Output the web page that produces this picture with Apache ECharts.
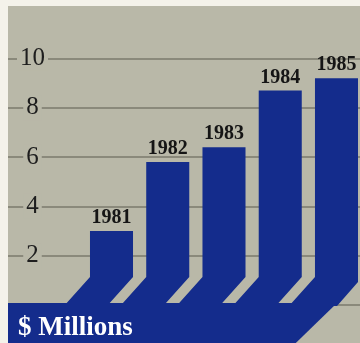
<!DOCTYPE html>
<html>
<head>
<meta charset="utf-8">
<script src="https://cdn.jsdelivr.net/npm/echarts@6/dist/echarts.min.js"></script>
<style>
  html, body { margin: 0; padding: 0; width: 360px; height: 343px; overflow: hidden; background: #f4f2ea; }
  #chart { position: absolute; left: 8px; top: 6px; width: 352px; height: 337px; }
</style>
</head>
<body>
<div id="chart"></div>
<script>
// Annual figures, $ millions
const years = ['1981', '1982', '1983', '1984', '1985'];
const revenue = [3.0, 5.8, 6.4, 8.7, 9.2];
const yMin = 0;
const yMax = 10;
const yStep = 2;
const unitLabel = '$ Millions';

const BLUE = '#142c8c';
const PAPER = '#b9b8a8';
const RULE = '#8a897b';
const FOOT = 26;          // height / sideways shift of each bar's slanted foot (px)
const SERIF = '"Liberation Serif", "DejaVu Serif", serif';

const chart = echarts.init(document.getElementById('chart'), null, { renderer: 'canvas' });

function renderBar(params, api) {
  const i = api.value(0);
  const top = api.coord([i, api.value(1)]);
  const zero = api.coord([i, 0]);
  const w = api.size([1, 0])[0] * 0.765;
  const xL = top[0] - w / 2;
  const xR = top[0] + w / 2;
  const yBase = zero[1] - 2;
  const yBend = yBase - FOOT;
  const isLast = params.dataIndex === years.length - 1;
  const rightBend = isLast ? yBend + 5 : yBend;
  const rightFoot = isLast ? xR - (FOOT - 5) : xR - FOOT;

  const children = [{
    type: 'polygon',
    shape: { points: [
      [xL, top[1]], [xR, top[1]], [xR, rightBend],
      [rightFoot, yBase + 3], [xL - FOOT, yBase + 3], [xL, yBend]
    ] },
    style: { fill: BLUE }
  }, {
    type: 'text',
    x: top[0],
    y: top[1] - 3,
    style: {
      text: years[i],
      fill: '#151515',
      font: 'bold 20px ' + SERIF,
      align: 'center',
      verticalAlign: 'bottom'
    }
  }];

  if (isLast) {
    // base band running under all bars, cut off diagonally on the right
    const cs = params.coordSys;
    const bottom = api.getHeight();
    children.unshift({
      type: 'polygon',
      shape: { points: [
        [cs.x, yBase], [rightFoot, yBase],
        [rightFoot - (bottom - yBase) * 1.03, bottom], [cs.x, bottom]
      ] },
      style: { fill: BLUE }
    });
  }
  return { type: 'group', children: children };
}

chart.setOption({
  backgroundColor: PAPER,
  animation: false,
  grid: { left: 0, right: 0, top: 52.4, bottom: 38, containLabel: false },
  xAxis: {
    type: 'value',
    min: -1.84,
    max: 4.418,
    show: false
  },
  yAxis: [{
    type: 'value',
    min: yMin, max: yMax, interval: yStep,
    z: 0,
    axisLine: { show: false },
    axisTick: { show: false },
    axisLabel: { show: false },
    splitLine: { show: true, lineStyle: { color: RULE, width: 2 } }
  }, {
    type: 'value',
    min: yMin, max: yMax, interval: yStep,
    z: 1,
    position: 'left',
    axisLine: { show: false },
    axisTick: { show: false },
    splitLine: { show: false },
    axisLabel: {
      inside: true,
      margin: 24.5,
      align: 'center',
      verticalAlign: 'middle',
      showMinLabel: false,
      color: '#1e1e1e',
      fontFamily: SERIF,
      fontSize: 25,
      backgroundColor: PAPER,
      padding: [0, 3]
    }
  }],
  series: [{
    type: 'custom',
    renderItem: renderBar,
    encode: { x: 0, y: 1 },
    data: revenue.map((v, i) => [i, v]),
    z: 3
  }],
  graphic: [{
    type: 'text',
    left: 10,
    top: 309,
    z: 10,
    style: {
      text: unitLabel,
      fill: '#ffffff',
      font: 'bold 27px ' + SERIF
    }
  }]
});
</script>
</body>
</html>
